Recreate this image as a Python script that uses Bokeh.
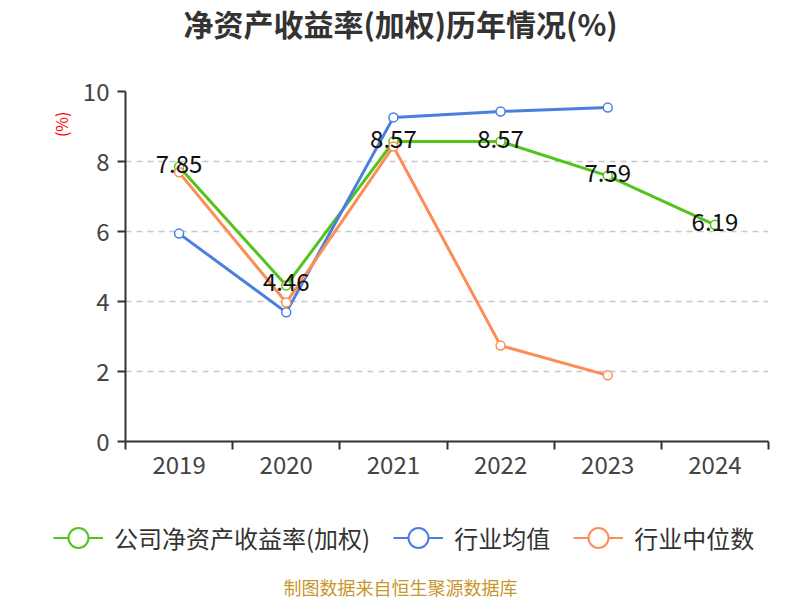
from bokeh.plotting import figure
from bokeh.layouts import column
from bokeh.models import (Range1d, FixedTicker, Label, Legend, LegendItem, ColumnDataSource)
from bokeh.core.properties import value
from bokeh.embed import file_html
from bokeh.resources import INLINE

years = ["2019", "2020", "2021", "2022", "2023", "2024"]
company = [7.85, 4.46, 8.57, 8.57, 7.59, 6.19]
ind_avg = [5.94, 3.69, 9.26, 9.43, 9.54]
ind_med = [7.69, 3.97, 8.43, 2.74, 1.89]
series_names = ["公司净资产收益率(加权)", "行业均值", "行业中位数"]

FONT = "Noto Sans CJK SC"
GREEN = "#52c41a"
BLUE = "#4a7fe0"
ORANGE = "#ff8c55"
COLORS = [GREEN, BLUE, ORANGE]

W = 800


def blank_fig(h):
    f = figure(width=W, height=h, output_backend="svg", toolbar_location=None,
               x_range=Range1d(0, 1), y_range=Range1d(0, 1),
               x_axis_type=None, y_axis_type=None, frame_align=False,
               min_border_left=0, min_border_right=0, min_border_top=0, min_border_bottom=0)
    f.outline_line_color = None
    f.grid.grid_line_color = None
    return f


# ---- title strip ----
top = blank_fig(60)
top.add_layout(Label(x=400, y=38, x_units="screen", y_units="screen",
                     text="净资产收益率(加权)历年情况(%)", text_align="center", text_baseline="middle",
                     text_font=FONT, text_font_size="30px", text_font_style="bold",
                     text_color="#333333"))

# ---- main chart ----
xs = list(range(len(years)))
p = figure(width=W, height=440, output_backend="svg", toolbar_location=None,
           title="(%)", title_location="left", frame_align=False,
           x_range=Range1d(-0.5, len(years) - 0.5), y_range=Range1d(0, 10),
           min_border_left=125, min_border_right=32, min_border_top=31, min_border_bottom=59)
p.outline_line_color = None
p.title.align = "right"
p.title.offset = 20
p.title.standoff = 14
p.title.text_color = "#ff0000"
p.title.text_font = FONT
p.title.text_font_size = "16px"
p.title.text_font_style = "normal"

xa = p.xaxis[0]
xa.ticker = FixedTicker(ticks=xs, minor_ticks=[i - 0.5 for i in range(len(years) + 1)])
xa.major_label_overrides = {i: y for i, y in enumerate(years)}
xa.major_tick_out = 0
xa.major_tick_in = 0
xa.minor_tick_out = 8
xa.minor_tick_in = 0
xa.minor_tick_line_color = "#333333"
xa.minor_tick_line_width = 2
xa.axis_line_color = "#333333"
xa.axis_line_width = 2
xa.major_label_text_font = FONT
xa.major_label_text_font_size = "24px"
xa.major_label_text_color = "#444444"
xa.major_label_standoff = 6

ya = p.yaxis[0]
ya.ticker = FixedTicker(ticks=[0, 2, 4, 6, 8, 10])
ya.minor_tick_out = 0
ya.minor_tick_in = 0
ya.major_tick_out = 8
ya.major_tick_in = 0
ya.major_tick_line_color = "#333333"
ya.major_tick_line_width = 2
ya.axis_line_color = "#333333"
ya.axis_line_width = 2
ya.major_label_text_font = FONT
ya.major_label_text_font_size = "24px"
ya.major_label_text_color = "#444444"
ya.major_label_standoff = 8

p.xgrid.grid_line_color = None
p.ygrid.grid_line_color = "#c8c8c8"
p.ygrid.grid_line_dash = "6 5"
p.ygrid.grid_line_width = 1.5

for vals, col in [(company, GREEN), (ind_avg, BLUE), (ind_med, ORANGE)]:
    xv = xs[:len(vals)]
    p.line(xv, vals, line_color=col, line_width=3)
    p.scatter(xv, vals, size=9, fill_color="white", line_color=col, line_width=1.5)

p.text(xs, company, text=[f"{v:.2f}" for v in company], text_align="center",
       text_baseline="middle", y_offset=-3, text_font=value(FONT),
       text_font_size="24px", text_color="#111111")

# ---- legend + source strip ----
bot = blank_fig(100)
nan = float("nan")
items = []
for name, col in zip(series_names, COLORS):
    src = ColumnDataSource(dict(x=[nan], y=[nan]))
    dl = bot.line("x", "y", source=src, line_color=col, line_width=2)
    ds = bot.scatter("x", "y", source=src, fill_color="white", line_color=col, line_width=2)
    items.append(LegendItem(label=name, renderers=[dl, ds]))

legend = Legend(items=items, orientation="horizontal", location=(53, 35),
                glyph_width=50, glyph_height=55, label_standoff=11, spacing=23,
                padding=0, margin=0, border_line_color=None, background_fill_alpha=0,
                label_text_font=FONT, label_text_font_size="24px", label_text_color="#333333")
bot.add_layout(legend, "center")
bot.add_layout(Label(x=400, y=14, x_units="screen", y_units="screen",
                     text="制图数据来自恒生聚源数据库", text_align="center", text_baseline="middle",
                     text_font=FONT, text_font_size="18px", text_color="#c8962e"))

layout = column(top, p, bot, spacing=0)
open("out.html", "w").write(file_html(layout, INLINE))
